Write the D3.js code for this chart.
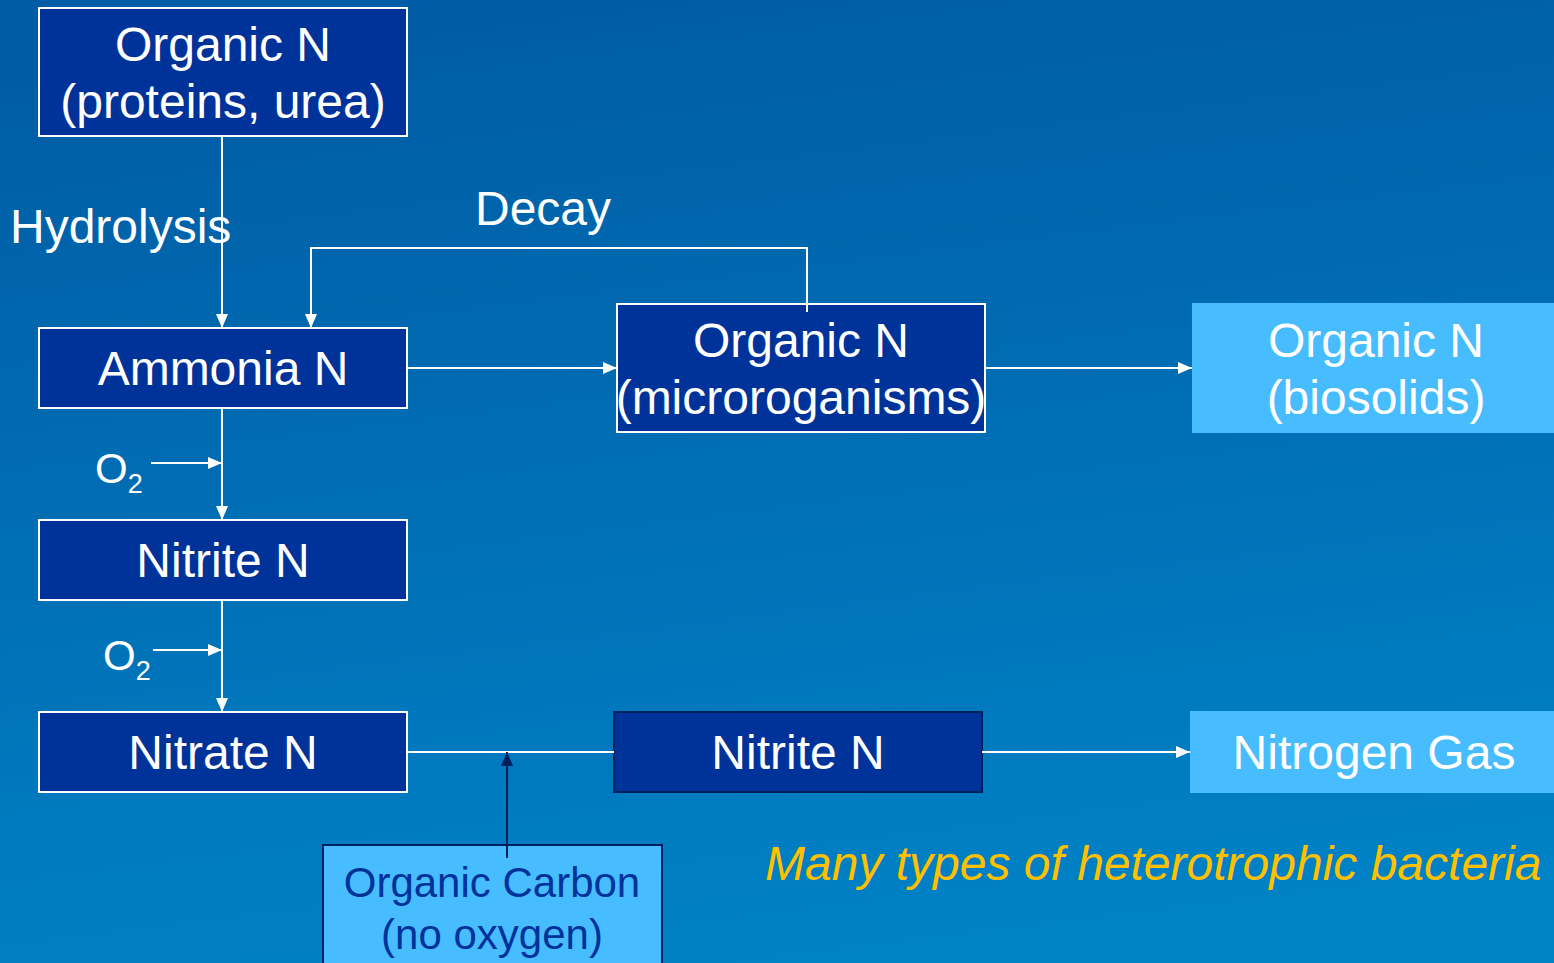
<!DOCTYPE html>
<html>
<head>
<meta charset="utf-8">
<script src="https://cdn.jsdelivr.net/npm/d3@7"></script>
<style>
  html, body { margin: 0; padding: 0; overflow: hidden; }
  svg { display: block; font-family: "Liberation Sans", Arial, sans-serif; }
</style>
</head>
<body>
<div id="chart"></div>
<script>
// nodes of the nitrogen diagram
var nodeIds = ['orgIn', 'ammonia', 'nitrite1', 'nitrate', 'orgMicro', 'biosolids', 'nitrite2', 'n2gas', 'carbon'];
var nodeLabels = [
  ['Organic N', '(proteins, urea)'],
  ['Ammonia N'],
  ['Nitrite N'],
  ['Nitrate N'],
  ['Organic N', '(microroganisms)'],
  ['Organic N', '(biosolids)'],
  ['Nitrite N'],
  ['Nitrogen Gas'],
  ['Organic Carbon', '(no oxygen)']
];
var nodeKinds = ['dark', 'dark', 'dark', 'dark', 'dark', 'light', 'darkNavy', 'light', 'carbon'];

// links between nodes
var links = [
  { from: 'orgIn', to: 'ammonia', label: 'Hydrolysis' },
  { from: 'ammonia', to: 'nitrite1', label: 'O2' },
  { from: 'nitrite1', to: 'nitrate', label: 'O2' },
  { from: 'ammonia', to: 'orgMicro' },
  { from: 'orgMicro', to: 'biosolids' },
  { from: 'orgMicro', to: 'ammonia', label: 'Decay' },
  { from: 'nitrate', to: 'nitrite2' },
  { from: 'nitrite2', to: 'n2gas' },
  { from: 'carbon', to: 'nitrate' }
];
var noteText = 'Many types of heterotrophic bacteria';

var width = 1554, height = 963;

// layout
var colX = d3.scaleOrdinal().domain([0, 1, 2]).range([39, 617, 1192]);
var rowY = d3.scaleOrdinal().domain([0, 1, 2, 3, 4]).range([72, 368, 560, 752, 904]);
var place = {
  orgIn:     { col: 0, row: 0, w: 368, h: 128 },
  ammonia:   { col: 0, row: 1, w: 368, h: 80 },
  nitrite1:  { col: 0, row: 2, w: 368, h: 80 },
  nitrate:   { col: 0, row: 3, w: 368, h: 80 },
  orgMicro:  { col: 1, row: 1, w: 368, h: 128 },
  biosolids: { col: 2, row: 1, w: 380, h: 130 },
  nitrite2:  { col: 1, row: 3, w: 368, h: 80, dx: -3 },
  n2gas:     { col: 2, row: 3, w: 380, h: 82, dx: -2 },
  carbon:    { col: 0, row: 4, w: 339, h: 130, x: 323, top: 845 }
};
var styles = {
  dark:     { fill: '#00339a', stroke: '#ffffff', text: '#ffffff', size: 48 },
  darkNavy: { fill: '#00339a', stroke: '#00205f', text: '#ffffff', size: 48 },
  light:    { fill: '#47bcff', stroke: 'none', text: '#ffffff', size: 48 },
  carbon:   { fill: '#47bcff', stroke: '#00205f', text: '#00339a', size: 42 }
};

var nodes = nodeIds.map(function(id, i) {
  var p = place[id];
  var x = p.x != null ? p.x : colX(p.col) + (p.dx || 0);
  var y = p.top != null ? p.top : rowY(p.row) - p.h / 2;
  return { id: id, lines: nodeLabels[i], kind: nodeKinds[i], col: p.col, x: x, y: y, w: p.w, h: p.h };
});
var byId = {};
nodes.forEach(function(n) { byId[n.id] = n; });

var svg = d3.select('#chart').append('svg')
  .attr('width', width)
  .attr('height', height);

var defs = svg.append('defs');
var grad = defs.append('linearGradient')
  .attr('id', 'bg')
  .attr('x1', '0.3').attr('y1', '0').attr('x2', '0.5').attr('y2', '1');
grad.append('stop').attr('offset', '0%').attr('stop-color', '#005ca4');
grad.append('stop').attr('offset', '100%').attr('stop-color', '#0082c6');

function marker(id, color) {
  defs.append('marker')
    .attr('id', id)
    .attr('viewBox', '0 0 14 12')
    .attr('refX', 14).attr('refY', 6)
    .attr('markerWidth', 14).attr('markerHeight', 12)
    .attr('markerUnits', 'userSpaceOnUse')
    .attr('orient', 'auto')
    .append('path')
    .attr('d', 'M0,0L14,6L0,12Z')
    .attr('fill', color);
}
marker('arrW', '#ffffff');
marker('arrD', '#00205f');

svg.append('rect')
  .attr('width', width).attr('height', height)
  .attr('fill', 'url(#bg)');

var gNodes = svg.append('g');
var gLinks = svg.append('g');

function cx(n) { return n.x + n.w / 2; }
function cy(n) { return n.y + n.h / 2; }
function right(n) { return n.x + n.w; }
function bottom(n) { return n.y + n.h; }

function drawPath(d, color, arrow) {
  gLinks.append('path')
    .attr('d', d)
    .attr('fill', 'none')
    .attr('stroke', color)
    .attr('stroke-width', 2)
    .attr('marker-end', arrow ? 'url(#' + arrow + ')' : null);
}

function drawO2(xArrowStart, xEnd, y, xText) {
  drawPath('M' + xArrowStart + ',' + y + 'H' + xEnd, '#ffffff', 'arrW');
  var t = gLinks.append('text')
    .attr('x', xText).attr('y', y + 20)
    .attr('fill', '#ffffff')
    .attr('font-size', 42);
  t.append('tspan').text('O');
  t.append('tspan').attr('font-size', 27).attr('dy', 10).text('2');
}

// boxes
var node = gNodes.selectAll('g.node')
  .data(nodes)
  .enter().append('g')
  .attr('class', 'node');

node.append('rect')
  .attr('x', function(d) { return d.x; })
  .attr('y', function(d) { return d.y; })
  .attr('width', function(d) { return d.w; })
  .attr('height', function(d) { return d.h; })
  .attr('fill', function(d) { return styles[d.kind].fill; })
  .attr('stroke', function(d) { return styles[d.kind].stroke; })
  .attr('stroke-width', 2);

node.each(function(d) {
  var st = styles[d.kind];
  var lh = d.kind === 'carbon' ? 52 : 57;
  var n = d.lines.length;
  var base = d.kind === 'carbon' ? 897 : cy(d) - (n - 1) * lh / 2 + st.size * 0.36;
  var tx = d.kind === 'carbon' ? 492 : cx(d) + (d.kind === 'light' ? -6 : 0);
  d3.select(this).selectAll('text')
    .data(d.lines)
    .enter().append('text')
    .attr('x', tx)
    .attr('y', function(s, i) { return base + i * lh; })
    .attr('text-anchor', 'middle')
    .attr('fill', st.text)
    .attr('font-size', st.size)
    .text(function(s) { return s; });
});

// connectors, drawn over the boxes
links.forEach(function(l) {
  var a = byId[l.from], b = byId[l.to];
  if (l.label === 'Decay') {
    var xs = cx(a) + 6, xe = 311, yTop = 248;
    drawPath('M' + xs + ',' + (a.y + 8) + 'V' + yTop + 'H' + xe + 'V' + b.y, '#ffffff', 'arrW');
    gLinks.append('text')
      .attr('x', 475).attr('y', 225)
      .attr('fill', '#ffffff').attr('font-size', 48)
      .text(l.label);
  } else if (l.from === 'carbon') {
    drawPath('M' + 507 + ',' + (a.y + 13) + 'V' + cy(b), '#00205f', 'arrD');
  } else if (a.col === b.col) {
    var x = cx(a) - 1;
    drawPath('M' + x + ',' + bottom(a) + 'V' + b.y, '#ffffff', 'arrW');
    if (l.label === 'Hydrolysis') {
      gLinks.append('text')
        .attr('x', 10).attr('y', 243)
        .attr('fill', '#ffffff').attr('font-size', 48)
        .text(l.label);
    } else if (l.label === 'O2') {
      var first = l.from === 'ammonia';
      drawO2(first ? 151 : 153, x, first ? b.y - 57 : b.y - 62, first ? 95 : 103);
    }
  } else {
    var y = cy(a);
    var arrow = l.to === 'nitrite2' ? null : 'arrW';
    drawPath('M' + right(a) + ',' + y + 'H' + b.x, '#ffffff', arrow);
  }
});

// contributing note
svg.append('text')
  .attr('x', 765).attr('y', 880)
  .attr('fill', '#ffc000')
  .attr('font-size', 48)
  .attr('font-style', 'italic')
  .text(noteText);
</script>
</body>
</html>
